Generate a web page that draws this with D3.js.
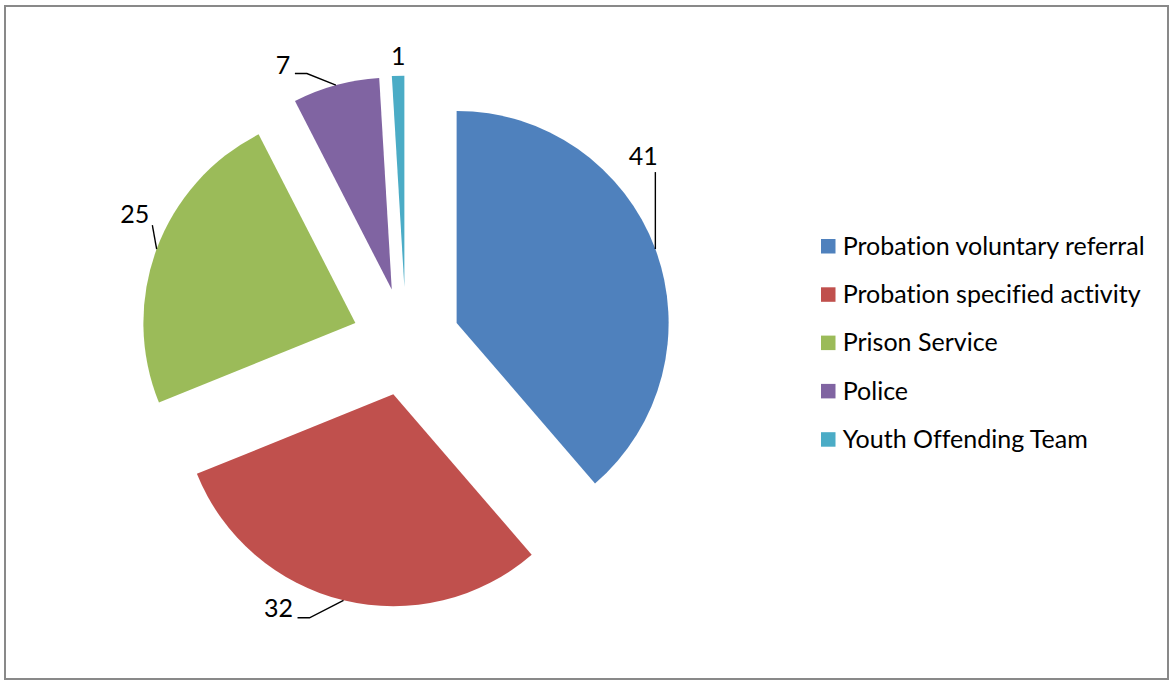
<!DOCTYPE html>
<html>
<head>
<meta charset="utf-8">
<script src="https://cdn.jsdelivr.net/npm/d3@7/dist/d3.min.js"></script>
<style>
  html, body { margin: 0; padding: 0; background: #fff; }
  svg { display: block; }
  text { font-family: Lato, "Open Sans", sans-serif; fill: #000; font-variant-ligatures: none; font-feature-settings: "liga" 0, "clig" 0; }
</style>
</head>
<body>
<svg id="chart" width="1169" height="680"></svg>
<script>
// ---- data ----
const categories = ["Probation voluntary referral", "Probation specified activity", "Prison Service", "Police", "Youth Offending Team"];
const values = [41, 32, 25, 7, 1];
const colors = ["#4F81BD", "#C0504D", "#9BBB59", "#8064A2", "#4BACC6"];

// ---- layout ----
const W = 1169, H = 680;
const cx = 406, cy = 341.7, R = 212, explode = 54;
// label layout relative to the slice's outer-arc anchor: text position and leader polyline
const labelLayout = [
  { text: [-12, -84], line: [[0, -77]] },
  { text: [-65, 17], line: [[-34, 17.5], [-46, 17.5]] },
  { text: [-22, -26], line: [[-4.3, -24]] },
  { text: [-53, -11.5], line: [[-29, -11.6], [-41, -11.6]] },
  { text: [0, -11], line: [] }
];

const svg = d3.select("#chart");

// border
svg.append("rect")
  .attr("x", 5).attr("y", 6).attr("width", 1163).attr("height", 673)
  .attr("fill", "none").attr("stroke", "#898989").attr("stroke-width", 2);

// font size fitted to the legend width of the reference
const probe = svg.append("text").attr("font-size", 100).text(categories[0]);
const probeW = probe.node().getComputedTextLength();
probe.remove();
const fs = 100 * 302 / probeW;

const data = categories.map((c, i) => ({ name: c, value: values[i], color: colors[i] }));
const pie = d3.pie().value(d => d.value).sort(null).startAngle(0).endAngle(2 * Math.PI);
const arcs = pie(data);
const arc = d3.arc().innerRadius(0).outerRadius(R);

const g = svg.append("g").attr("transform", `translate(${cx},${cy})`);

arcs.forEach((a, i) => {
  const mid = (a.startAngle + a.endAngle) / 2;
  const ux = Math.sin(mid), uy = -Math.cos(mid);
  const ox = ux * explode, oy = uy * explode;
  g.append("path")
    .attr("d", arc(a))
    .attr("transform", `translate(${ox},${oy})`)
    .attr("fill", a.data.color);

  // anchor on outer arc at bisector
  const ax = ox + ux * R, ay = oy + uy * R;
  const L = labelLayout[i];
  if (L.line.length) {
    const pts = [[ax, ay]].concat(L.line.map(p => [ax + p[0], ay + p[1]]));
    g.append("path")
      .attr("d", d3.line()(pts))
      .attr("fill", "none").attr("stroke", "#000").attr("stroke-width", 1.4);
  }
  g.append("text")
    .attr("x", ax + L.text[0]).attr("y", ay + L.text[1])
    .attr("text-anchor", "middle")
    .attr("font-size", fs)
    .text(a.data.value);
});

// legend
const legend = svg.append("g").attr("transform", "translate(821,239)");
const rowH = 48.3, sq = 14.5;
categories.forEach((c, i) => {
  const row = legend.append("g").attr("transform", `translate(0,${i * rowH})`);
  row.append("rect").attr("width", sq).attr("height", sq).attr("fill", colors[i]);
  row.append("text")
    .attr("x", 21.7).attr("y", sq / 2 + 8.5)
    .attr("font-size", fs)
    .text(c);
});
</script>
</body>
</html>
